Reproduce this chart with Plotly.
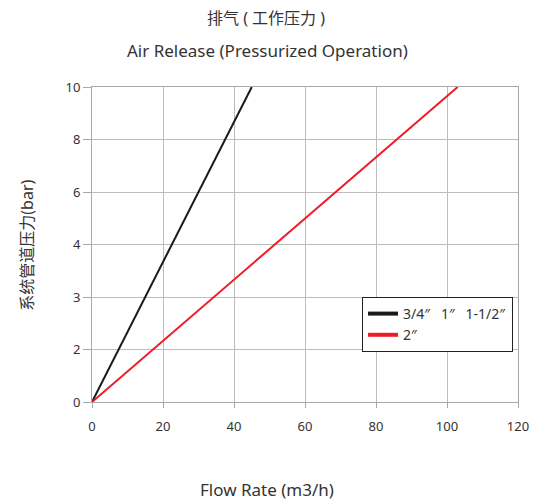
import numpy as np
import plotly.graph_objects as go

# Data
x_ticks = [0, 20, 40, 60, 80, 100, 120]
y_tick_labels = ["0", "2", "3", "4", "6", "8", "10"]
y_tick_values = [0, 2, 3, 4, 6, 8, 10]

NB = "\u00a0"
series_names = ["3/4\u2033" + NB * 2 + " 1\u2033" + NB * 2 + " 1-1/2\u2033", "2\u2033"]
series_colors = ["#1a1a1a", "#ee1c25"]
flow_small = [0, 45]
pressure_small = [0, 10]
flow_large = [0, 103]
pressure_large = [0, 10]

# the chart's y axis places its labels at equal spacing
y_pos = list(range(len(y_tick_values)))


def ymap(p):
    return list(np.interp(p, y_tick_values, y_pos))


FONT = "Noto Sans, Noto Sans CJK SC, sans-serif"

fig = go.Figure()
for name, color, fx, py in [
    (series_names[0], series_colors[0], flow_small, pressure_small),
    (series_names[1], series_colors[1], flow_large, pressure_large),
]:
    fig.add_trace(go.Scatter(x=fx, y=ymap(py), mode="lines",
                             line=dict(color=color, width=2),
                             showlegend=False, hoverinfo="skip"))
    fig.add_trace(go.Scatter(x=[None], y=[None], mode="lines", name=name,
                             line=dict(color=color, width=4)))

PW, PH, X0, Y0 = 437, 315, 92, 402


def px(x):
    return (x - X0) / PW


def py_(y):
    return (Y0 - y) / PH


# page body has an 8px margin, so the figure is shrunk to fit the window
fig.update_layout(
    width=530, height=494,
    margin=dict(l=84, r=9, t=79, b=100),
    paper_bgcolor="white", plot_bgcolor="white",
    font=dict(family=FONT, size=13, color="#333333"),
    legend=dict(x=px(369), y=py_(297), xanchor="left", yanchor="top",
                bordercolor="#222222", borderwidth=1,
                bgcolor="white", font=dict(size=14, color="#333333"),
                itemwidth=30, tracegroupgap=0),
)

fig.add_annotation(text="排气 ( 工作压力 )", xref="paper", yref="paper",
                   x=px(270), y=py_(18), showarrow=False,
                   xanchor="center", yanchor="middle",
                   font=dict(size=16, color="#333333"))
fig.add_annotation(text="Air Release (Pressurized Operation)", xref="paper", yref="paper",
                   x=px(272), y=py_(51), showarrow=False,
                   xanchor="center", yanchor="middle",
                   font=dict(size=17, color="#333333"))
fig.add_annotation(text="Flow Rate (m3/h)", xref="paper", yref="paper",
                   x=px(272), y=py_(490), showarrow=False,
                   xanchor="center", yanchor="middle",
                   font=dict(size=17, color="#333333"))
fig.add_annotation(text="系统管道压力(bar)", xref="paper", yref="paper",
                   x=px(25), y=py_(245), showarrow=False,
                   textangle=-90, xanchor="center", yanchor="middle",
                   font=dict(size=16, color="#333333"))

fig.update_xaxes(range=[0, 120], tickvals=x_ticks, showgrid=True,
                 gridcolor="#bdbdbd", gridwidth=1, zeroline=False,
                 showline=True, linecolor="#a8a8a8", linewidth=1, mirror=True,
                 ticks="outside", ticklen=5, tickcolor="#a8a8a8",
                 ticklabeloverflow="allow", ticklabelstandoff=7,
                 tickfont=dict(size=13, color="#333333"), fixedrange=True)
fig.update_yaxes(range=[0, 6], tickvals=y_pos, ticktext=y_tick_labels,
                 showgrid=True, gridcolor="#bdbdbd", gridwidth=1, zeroline=False,
                 showline=True, linecolor="#a8a8a8", linewidth=1, mirror=True,
                 ticks="outside", ticklen=8, tickcolor="#a8a8a8",
                 tickfont=dict(size=13, color="#333333"), fixedrange=True)

fig.write_html("out.html")
